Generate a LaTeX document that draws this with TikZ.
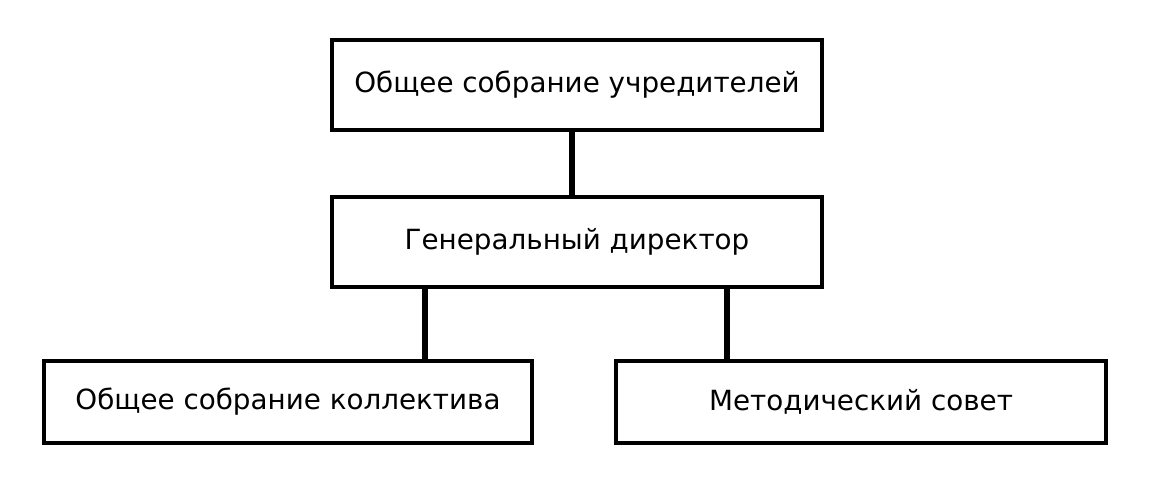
\documentclass[tikz,border=0pt]{standalone}
\usepackage{fontspec}
\setmainfont{DejaVu Sans}
\usetikzlibrary{positioning}

\begin{document}
\begin{tikzpicture}[x=0.01cm, y=-0.01cm,
	unit/.style={draw, line width=1.2pt, inner sep=2pt, minimum height=0.86cm, font=\fontsize{7.9}{10}\selectfont},
	link/.style={line width=1.7pt}]
	\useasboundingbox (0,0) rectangle (1152,489);
	\node[unit, minimum width=4.9cm, minimum height=0.9cm] (founders) at (577,85) {Общее собрание учредителей};
	\node[unit, minimum width=4.9cm, minimum height=0.9cm] (director) at (577,242) {Генеральный директор};
	\node[unit, minimum width=4.88cm, minimum height=0.82cm] (staff) at (288,402) {Общее собрание коллектива};
	\node[unit, minimum width=4.9cm, minimum height=0.82cm] (council) at (861,402) {Методический совет};

	\draw[link] (founders.south -| 572,0) -- (director.north -| 572,0);
	\draw[link] (director.south -| 425,0) -- (staff.north -| 425,0);
	\draw[link] (director.south -| 727,0) -- (council.north -| 727,0);
\end{tikzpicture}
\end{document}
